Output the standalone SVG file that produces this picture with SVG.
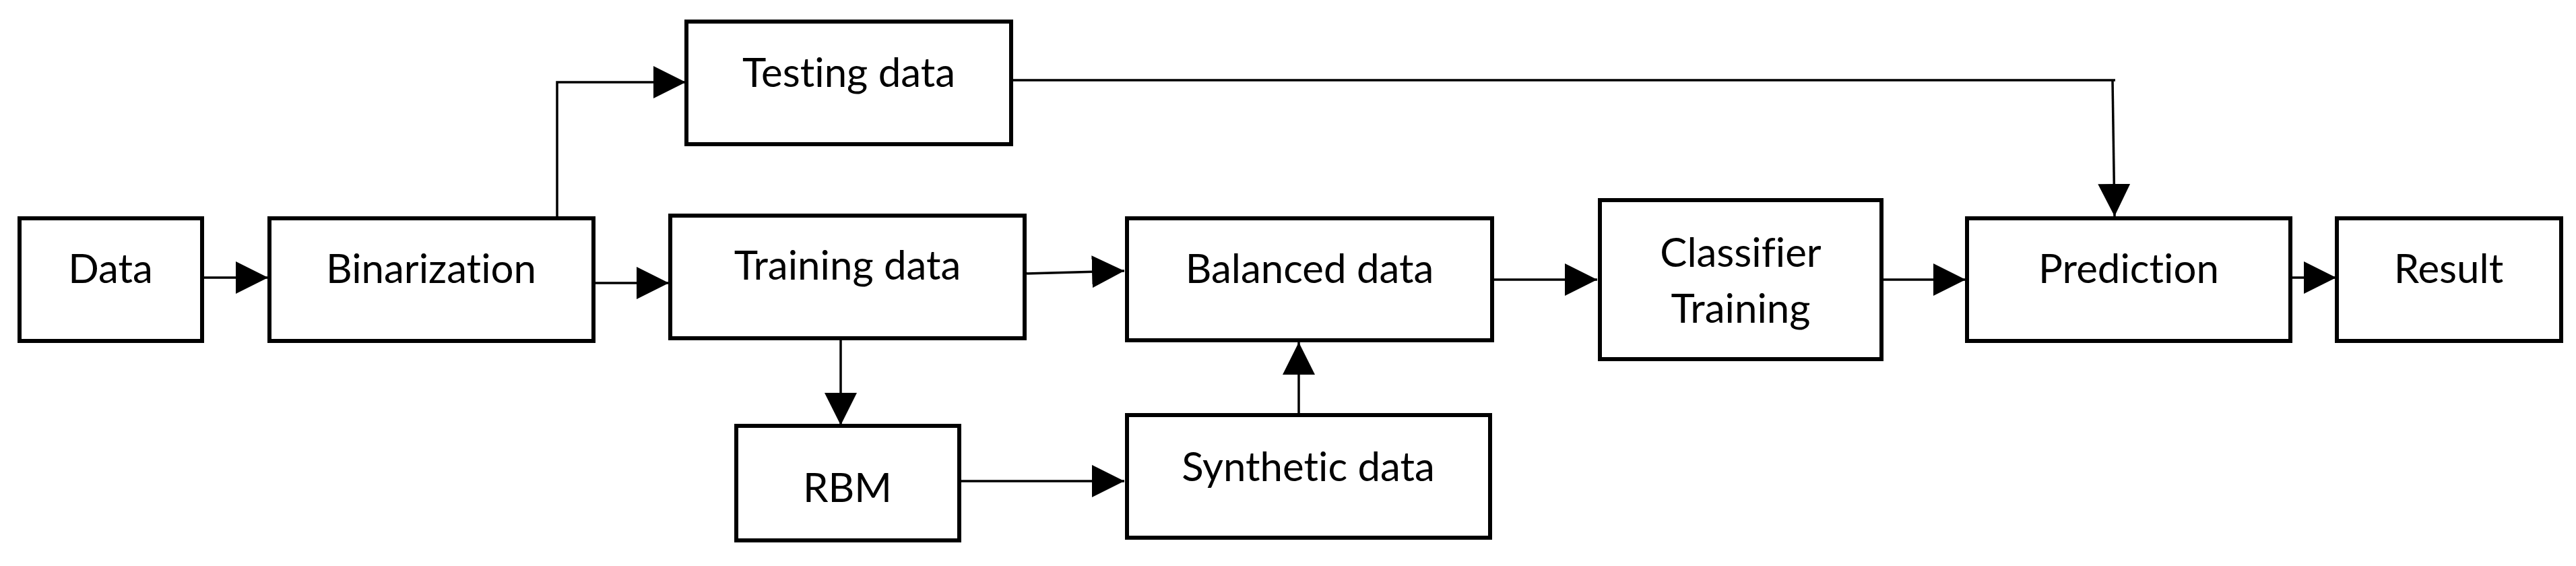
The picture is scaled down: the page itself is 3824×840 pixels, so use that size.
<svg xmlns="http://www.w3.org/2000/svg" width="3824" height="840" viewBox="0 0 3824 840">
<defs>
<marker id="ah" markerUnits="userSpaceOnUse" markerWidth="48" markerHeight="48" refX="48" refY="24" orient="auto">
<path d="M0,0 L48,24 L0,48 z" fill="#000"/>
</marker>
<style>
.box{fill:#fff;stroke:#000;stroke-width:6}
.lbl{font-family:Lato,"Liberation Sans",sans-serif;font-size:60px;fill:#000;text-anchor:middle;font-variant-ligatures:none}
.c{fill:none;stroke:#000;stroke-width:3.5}
.a{marker-end:url(#ah)}
</style>
</defs>
<rect width="3824" height="840" fill="#fff"/>
<g id="connectors">
<path class="c a" d="M300,412 H398"/>
<path class="c a" d="M881,420 H993"/>
<path class="c a" d="M827,324 V122 H1018"/>
<path class="c" d="M1501,119 H3140"/>
<path class="c a" d="M3136,119 L3139,321"/>
<path class="c a" d="M1521,406 L1669,402"/>
<path class="c a" d="M1248,502 V631"/>
<path class="c a" d="M1424,714 H1669"/>
<path class="c a" d="M1928,616 V508"/>
<path class="c a" d="M2215,415 H2371"/>
<path class="c a" d="M2793,415 H2918"/>
<path class="c a" d="M3400,412 H3468"/>
</g>
<g id="data"><rect class="box" x="29" y="324" width="271" height="182"/><text class="lbl" x="164" y="420">Data</text></g>
<g id="binarization"><rect class="box" x="400" y="324" width="481" height="182"/><text class="lbl" x="640" y="420">Binarization</text></g>
<g id="testing"><rect class="box" x="1019" y="32" width="482" height="182"/><text class="lbl" x="1260" y="129">Testing data</text></g>
<g id="training"><rect class="box" x="995" y="320" width="526" height="182"/><text class="lbl" x="1258" y="415">Training data</text></g>
<g id="rbm"><rect class="box" x="1093" y="632" width="331" height="170"/><text class="lbl" x="1258" y="745">RBM</text></g>
<g id="balanced"><rect class="box" x="1673" y="324" width="542" height="181"/><text class="lbl" x="1944" y="420">Balanced data</text></g>
<g id="synthetic"><rect class="box" x="1673" y="616" width="539" height="182"/><text class="lbl" x="1942" y="714">Synthetic data</text></g>
<g id="classifier"><rect class="box" x="2375" y="297" width="418" height="236"/><text class="lbl" x="2584" y="396">Classifier</text><text class="lbl" x="2584" y="479">Training</text></g>
<g id="prediction"><rect class="box" x="2920" y="324" width="480" height="182"/><text class="lbl" x="3160" y="420">Prediction</text></g>
<g id="result"><rect class="box" x="3469" y="324" width="333" height="182"/><text class="lbl" x="3635" y="420">Result</text></g>
</svg>
